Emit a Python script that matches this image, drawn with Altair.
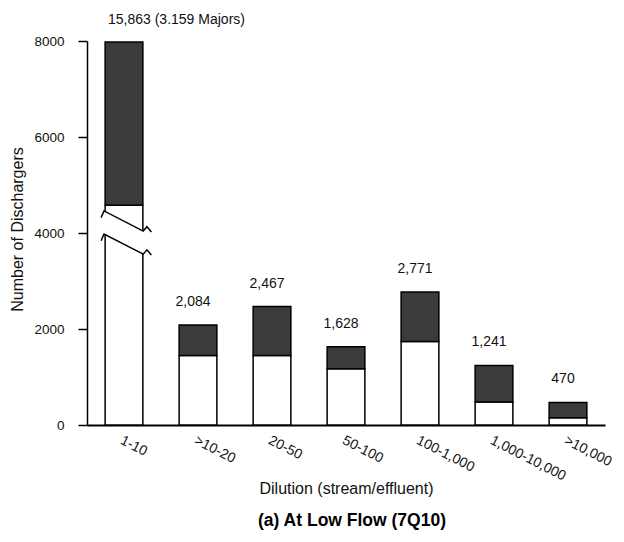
import json
import altair as alt
import pandas as pd

# ---------------- data ----------------
categories = ["1-10", ">10-20", "20-50", "50-100", "100-1,000", "1,000-10,000", ">10,000"]
totals = [15863, 2084, 2467, 1628, 2771, 1241, 470]
majors = [3159, 634, 1017, 458, 1031, 761, 320]
total_labels = ["15,863 (3.159 Majors)", "2,084", "2,467", "1,628", "2,771", "1,241", "470"]
y_ticks = [0, 2000, 4000, 6000, 8000]

# first bar is drawn on a broken axis: values as drawn on the scale
broken_minor_shown = 4580
broken_total_shown = 7980

# axis-break marks on the first bar (data units: bar index, count)
break_a_x = [-0.31, -0.27, 0.26, 0.31, 0.37]
break_a_y = [4320, 4460, 4040, 4130, 4020]
break_b_x = [-0.31, -0.27, 0.26, 0.31, 0.37]
break_b_y = [3840, 3980, 3560, 3650, 3540]
gap_x = [-0.28, 0.28]
gap_top = [4468, 4032]
gap_bottom = [3988, 3552]

HALF = 0.255
DARK = "#3b3b3b"
FONT = "Liberation Sans"

# ---------------- tables ----------------
seg_rows = []
for i, (t, m) in enumerate(zip(totals, majors)):
    if i == 0:
        lo_top, top = broken_minor_shown, broken_total_shown
    else:
        lo_top, top = t - m, t
    seg_rows.append({"x": i - HALF, "x1": i + HALF, "y": 0, "hi": lo_top, "fill": "white"})
    seg_rows.append({"x": i - HALF, "x1": i + HALF, "y": lo_top, "hi": top, "fill": DARK})
seg = pd.DataFrame(seg_rows)

lab = pd.DataFrame({
    "x": list(range(len(categories))),
    "y": [broken_total_shown] + totals[1:],
    "label": total_labels,
})

brk = pd.DataFrame(
    [{"x": x, "y": y, "line": "a", "k": k} for k, (x, y) in enumerate(zip(break_a_x, break_a_y))]
    + [{"x": x, "y": y, "line": "b", "k": k} for k, (x, y) in enumerate(zip(break_b_x, break_b_y))]
)
gap = pd.DataFrame({"x": gap_x, "y": gap_top, "bottom": gap_bottom})

xscale = alt.Scale(domain=[-0.5, 6.5], nice=False, zero=False)
yscale = alt.Scale(domain=[0, 8000], nice=False)

label_expr = json.dumps(categories) + "[datum.value]"

xaxis = alt.Axis(
    values=list(range(len(categories))),
    labelExpr=label_expr,
    labelAngle=27,
    labelAlign="left",
    labelBaseline="top",
    labelPadding=8,
    labelFontSize=14,
    labelFlush=False,
    labelOverlap=False,
    labelBound=False,
    ticks=False,
    grid=False,
    domainColor="black",
    domainWidth=2,
    title="Dilution (stream/effluent)",
    titleFontSize=16,
    titleFontWeight="normal",
    titleY=63,
    titleBaseline="middle",
)
yaxis = alt.Axis(
    values=y_ticks,
    format="d",
    grid=False,
    tickSize=9,
    tickColor="black",
    tickWidth=1.5,
    domainColor="black",
    domainWidth=1.5,
    labelPadding=14,
    labelFontSize=13.5,
    title="Number of Dischargers",
    titleFontSize=16,
    titleFontWeight="normal",
    titleX=-70,
    titleY=188,
    titleBaseline="middle",
)

X = alt.X("x:Q", scale=xscale, axis=xaxis)
Y = alt.Y("y:Q", scale=yscale, axis=yaxis)

bars = alt.Chart(seg).mark_bar(stroke="black", strokeWidth=1.5).encode(
    x=X,
    x2="x1:Q",
    y=Y,
    y2="hi:Q",
    fill=alt.Fill("fill:N", scale=None),
)

gap_area = alt.Chart(gap).mark_area(fill="white", opacity=1).encode(
    x=X,
    y=Y,
    y2="bottom:Q",
)

break_lines = alt.Chart(brk).mark_line(color="black", strokeWidth=1.5).encode(
    x=X,
    y=Y,
    detail="line:N",
    order="k:Q",
)

value_labels = alt.Chart(lab).transform_filter("datum.x > 0").mark_text(
    fontSize=14, dy=-19, dx=-5, align="center", baseline="alphabetic", color="#111111", font=FONT
).encode(
    x=X,
    y=Y,
    text="label:N",
)

first_label = alt.Chart(lab).transform_filter("datum.x == 0").mark_text(
    fontSize=14, dy=-18, dx=-16, align="left", baseline="alphabetic", color="#111111", font=FONT
).encode(
    x=X,
    y=Y,
    text="label:N",
)

chart = (
    alt.layer(bars, gap_area, break_lines, value_labels, first_label)
    .properties(
        width=518,
        height=384,
        background="white",
        padding={"left": 79, "top": 33, "right": 11, "bottom": 109},
        autosize=alt.AutoSizeParams(type="none"),
        title=alt.TitleParams(
            text="(a)  At Low Flow (7Q10)",
            orient="bottom",
            anchor="middle",
            fontSize=17.5,
            fontWeight="bold",
            font=FONT,
            color="black",
            offset=16,
            dx=6,
        ),
    )
    .configure_view(strokeWidth=0)
    .configure_axis(labelFont=FONT, titleFont=FONT, labelColor="#111111", titleColor="#111111")
)

chart.save("out.html", embed_options={"renderer": "svg", "actions": False})
